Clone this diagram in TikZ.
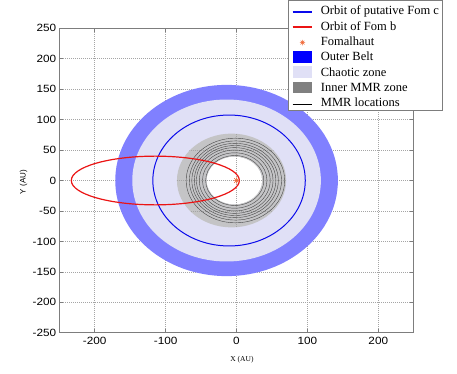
\documentclass[tikz,border=0pt]{standalone}
\usepackage{fontspec}
\setmainfont{Liberation Serif}
\setsansfont{Liberation Sans}
\definecolor{beltblue}{RGB}{128,128,255}
\definecolor{chaos}{RGB}{224,224,246}
\definecolor{mmrgray}{RGB}{196,196,198}
\definecolor{leggray}{RGB}{128,128,128}
\definecolor{axgray}{RGB}{125,125,125}
\definecolor{gridgray}{RGB}{165,165,165}
\definecolor{starorange}{RGB}{240,100,50}
\definecolor{orbred}{RGB}{235,20,20}
\definecolor{orbblue}{RGB}{10,10,235}
\begin{document}
\begin{tikzpicture}[x=1pt,y=-1pt,
  ticklab/.style={font=\sffamily\fontsize{10.5}{12}\selectfont, xscale=1.12, inner sep=0pt},
  gridline/.style={gridgray, line width=0.5pt, dash pattern=on 1pt off 1pt},
  leg/.style={font=\fontsize{12.5}{14}\selectfont, anchor=west, inner sep=0pt, text height=1.6ex, text depth=0.3ex},
  starmark/.style={circle, inner sep=0pt, minimum size=6pt},
  mmr/.style={black!72, line width=0.4pt}]
\useasboundingbox (0,0) rectangle (457,374);
\begin{scope}[shift={(236.5,180.5)}, x=0.709pt, y=0.609pt]
  % grid
  \foreach \g in {-200,-100,0,100,200} \draw[gridline] (\g,-250) -- (\g,250);
  \foreach \g in {-200,-150,...,200} \draw[gridline] (-250,\g) -- (250,\g);
  % zones
  \fill[beltblue] (-14,0) circle[radius=157];
  \fill[chaos] (-14,0) circle[radius=133];
  \fill[mmrgray] (-7,0) circle[radius=77];
  \fill[white] (-3,0) circle[radius=39];
  \begin{scope}
    \clip (-7,0) circle[radius=77];
    \draw[gridline] (0,-80) -- (0,80);
    \draw[gridline] (-90,0) -- (90,0);
    \draw[gridline] (-100,-80) -- (-100,80);
    \foreach \g in {-50,50} \draw[gridline] (-90,\g) -- (90,\g);
  \end{scope}
  % MMR locations
  \foreach \r/\c in {41/-2.5,45.5/-2.5,50/-2.5,54/-2.5,57.5/-2,61/-2,65/-1.5,69.5/-1.5}
    \draw[mmr] (\c,0) circle[radius=\r];
  % orbits
  \draw[orbblue, line width=1pt] (-10.5,0) circle[radius=107.5];
  \draw[orbred, line width=1.2pt] (-114.5,0) ellipse[x radius=118.5, y radius=40];
  % Fomalhaut
  \node[starmark] (fom) at (0,0) {};
  \draw[starorange, line width=0.5pt] (fom.north) -- (fom.south) (fom.east) -- (fom.west)
    (fom.north east) -- (fom.south west) (fom.north west) -- (fom.south east);
  % axes box
  \draw[axgray, line width=0.8pt] (-250,-250) rectangle (250,250);
  \foreach \g in {-250,-200,...,250} {
    \draw[axgray, line width=0.6pt] (-250,\g) -- ++(5.6,0);
    \draw[axgray, line width=0.6pt] (250,\g) -- ++(-5.6,0);
    \node[ticklab, anchor=east, xshift=-2.5pt] (yl\g) at (-250,\g) {\g};
  }
  \foreach \g in {-200,-100,0,100,200} {
    \draw[axgray, line width=0.6pt] (\g,-250) -- ++(0,6.6);
    \draw[axgray, line width=0.6pt] (\g,250) -- ++(0,-6.6);
    \node[ticklab, anchor=north, yshift=-4.5pt] (xl\g) at (\g,-250) {\g};
  }
\end{scope}
% axis labels
\node[font=\fontsize{7.5}{9}\selectfont, inner sep=0pt] (xlab) at (242,360) {X (AU)};
\node[font=\sffamily\fontsize{8}{9}\selectfont, inner sep=0pt, rotate=90] (ylab) at (23.5,182) {Y (AU)};
% legend
\draw[axgray, fill=white, line width=0.6pt] (288.3,0.8) rectangle (442.3,110.7);
\coordinate (s1a) at (292.7,12.0); \coordinate (s1b) at (312.3,12.0);
\draw[orbblue, line width=1.3pt] (s1a) -- (s1b);
\node[leg] (l1) at (320.7,12.0) {Orbit of putative Fom c};
\coordinate (s2a) at (292.7,27.0); \coordinate (s2b) at (312.3,27.0);
\draw[orbred, line width=1.3pt] (s2a) -- (s2b);
\node[leg] (l2) at (320.7,27.3) {Orbit of Fom b};
\node[starmark, minimum size=5pt] (lstar) at (302.5,42.6) {};
\draw[starorange, line width=0.5pt] (lstar.north) -- (lstar.south) (lstar.east) -- (lstar.west)
  (lstar.north east) -- (lstar.south west) (lstar.north west) -- (lstar.south east);
\node[leg] (l3) at (320.7,42.6) {Fomalhaut};
\fill[blue] (292.7,51.2) rectangle (312.3,62.6);
\node[leg] (l4) at (320.7,57.9) {Outer Belt};
\fill[chaos] (292.7,66.5) rectangle (312.3,77.9);
\node[leg] (l5) at (320.7,73.2) {Chaotic zone};
\fill[leggray] (292.7,81.8) rectangle (312.3,93.2);
\node[leg] (l6) at (320.7,88.5) {Inner MMR zone};
\coordinate (s7a) at (292.7,103.8); \coordinate (s7b) at (312.3,103.8);
\draw[black, line width=0.5pt] (s7a) -- (s7b);
\node[leg] (l7) at (320.7,103.8) {MMR locations};
\end{tikzpicture}
\end{document}
